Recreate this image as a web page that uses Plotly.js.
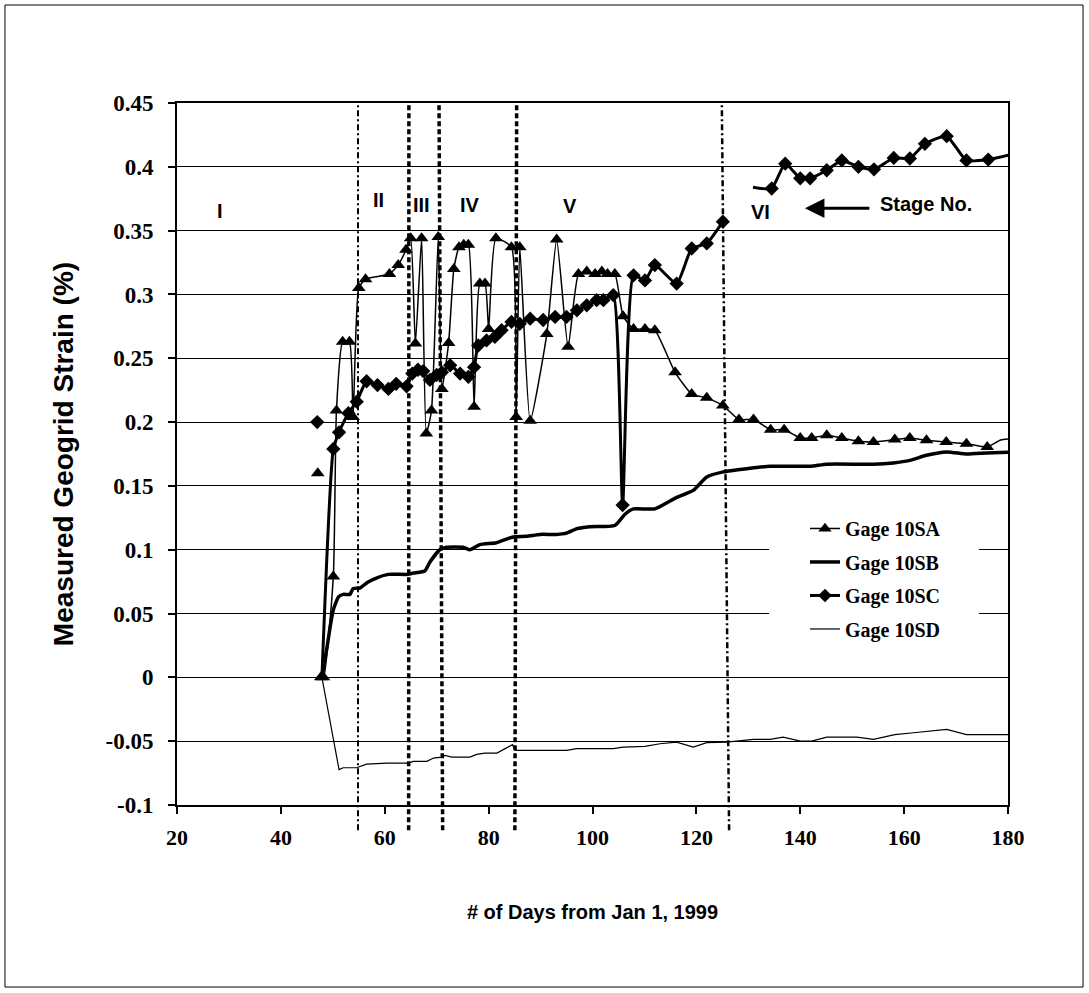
<!DOCTYPE html>
<html>
<head>
<meta charset="utf-8">
<script src="https://cdn.plot.ly/plotly-3.0.1.min.js"></script>
<style>
  html, body { margin: 0; padding: 0; background: #ffffff; }
  #chart { width: 1089px; height: 993px; }
</style>
</head>
<body>
<div id="chart"></div>
<script>
// ---------------- data ----------------
const saDays = [47.1, 47.5, 47.7, 48.2, 50.1, 50.7, 51.9, 53.2, 53.9, 55.0, 56.3, 60.9, 62.6, 64.1, 65.0, 65.9, 67.1, 68.0, 69.0, 70.3, 71.0, 72.3, 73.3, 74.3, 75.2, 76.1, 77.2, 78.3, 79.3, 80.0, 81.4, 84.4, 85.3, 86.0, 88.0, 91.2, 93.1, 95.3, 97.3, 98.9, 100.5, 101.8, 102.9, 104.3, 105.9, 107.9, 110.1, 112.0, 115.9, 119.1, 122.0, 125.1, 128.2, 131.0, 134.3, 136.9, 140.0, 142.2, 145.1, 148.0, 151.2, 154.1, 158.2, 161.1, 164.3, 168.1, 172.0, 176.0, 178.6, 181.0];
const saValues = [0.16, null, 0, 0, 0.079, 0.209, 0.263, 0.263, 0.204, 0.305, 0.312, 0.316, 0.323, 0.335, 0.344, 0.2615, 0.344, 0.191, 0.209, 0.345, 0.226, 0.262, 0.320, 0.337, 0.339, 0.339, 0.212, 0.3085, 0.3085, 0.273, 0.344, 0.337, 0.204, 0.337, 0.201, 0.269, 0.343, 0.259, 0.316, 0.318, 0.316, 0.318, 0.316, 0.316, 0.283, 0.273, 0.273, 0.272, 0.239, 0.222, 0.219, 0.213, 0.202, 0.202, 0.194, 0.194, 0.1876, 0.1876, 0.1897, 0.1876, 0.185, 0.1844, 0.1863, 0.1876, 0.1857, 0.1844, 0.1831, 0.1805, 0.186, 0.187];

const sbDays = [47.9, 48.9, 49.5, 50.1, 51.1, 52.0, 53.3, 53.9, 55.2, 56.8, 58.5, 60.7, 64.5, 65.5, 67.7, 68.7, 70.6, 71.9, 75.1, 76.4, 78.3, 81.5, 84.7, 87.3, 89.9, 93.1, 95.0, 97.0, 99.5, 104.3, 106.3, 107.9, 112.0, 116.2, 119.4, 122.0, 125.2, 129.7, 134.2, 141.9, 145.1, 154.1, 157.9, 161.1, 164.3, 168.2, 172.0, 175.9, 181.0];
const sbValues = [0, 0.024, 0.040, 0.053, 0.063, 0.065, 0.065, 0.0695, 0.070, 0.0747, 0.078, 0.0807, 0.0807, 0.0817, 0.0833, 0.0904, 0.100, 0.102, 0.102, 0.100, 0.104, 0.1055, 0.110, 0.1105, 0.112, 0.112, 0.113, 0.1165, 0.118, 0.119, 0.128, 0.132, 0.132, 0.141, 0.1465, 0.157, 0.161, 0.1635, 0.1654, 0.1654, 0.167, 0.167, 0.168, 0.170, 0.174, 0.1766, 0.175, 0.1758, 0.1766];

const scDays = [47.0, 47.5, 47.9, 50.1, 51.2, 53.0, 54.6, 56.5, 58.6, 60.7, 62.2, 64.2, 65.3, 66.4, 67.4, 68.7, 70.0, 71.0, 72.6, 74.5, 76.1, 77.2, 78.0, 79.6, 81.2, 82.5, 84.4, 86.0, 88.0, 90.5, 92.8, 95.0, 97.0, 98.9, 100.8, 102.1, 104.0, 105.8, 107.9, 110.1, 112.0, 116.2, 119.1, 122.0, 125.1, 128.0, 130.9, 134.5, 137.1, 140.0, 141.9, 145.1, 148.0, 151.2, 154.2, 158.0, 161.1, 164.0, 168.2, 172.0, 176.2, 181.0];
const scValues = [0.2, null, 0, 0.179, 0.192, 0.207, 0.216, 0.232, 0.229, 0.226, 0.230, 0.228, 0.238, 0.241, 0.240, 0.233, 0.237, 0.239, 0.2445, 0.238, 0.2355, 0.243, 0.260, 0.264, 0.2667, 0.272, 0.2785, 0.277, 0.281, 0.280, 0.2824, 0.2824, 0.2876, 0.2915, 0.2955, 0.2955, 0.2994, 0.135, 0.315, 0.311, 0.323, 0.3085, 0.336, 0.340, 0.357, null, 0.384, 0.383, 0.4025, 0.391, 0.391, 0.3973, 0.405, 0.400, 0.398, 0.407, 0.4065, 0.418, 0.424, 0.405, 0.4057, 0.410];

const sdDays = [47.9, 51.2, 52.0, 54.6, 56.5, 60.4, 64.5, 65.5, 68.1, 69.4, 71.0, 71.6, 72.9, 76.4, 77.7, 79.3, 81.6, 83.2, 84.6, 85.1, 95.0, 97.0, 104.0, 105.9, 110.1, 113.0, 116.2, 119.4, 122.0, 125.8, 131.0, 134.2, 136.7, 140.0, 142.2, 145.1, 150.9, 154.1, 158.2, 161.8, 165.0, 168.2, 172.0, 181.0];
const sdValues = [0, -0.0723, -0.0708, -0.0708, -0.068, -0.0672, -0.0672, -0.0658, -0.0658, -0.0632, -0.0625, -0.0611, -0.0625, -0.0625, -0.0603, -0.0593, -0.0593, -0.0559, -0.0527, -0.0572, -0.0572, -0.0559, -0.0559, -0.0546, -0.054, -0.052, -0.0507, -0.0546, -0.0512, -0.0507, -0.0486, -0.0486, -0.0468, -0.0499, -0.0499, -0.0468, -0.0468, -0.0486, -0.0449, -0.0434, -0.0421, -0.0408, -0.0449, -0.0449];

const seriesNames = ['Gage 10SA', 'Gage 10SB', 'Gage 10SC', 'Gage 10SD'];

const xTickVals = [20, 40, 60, 80, 100, 120, 140, 160, 180];
const xTickLabels = ['20', '40', '60', '80', '100', '120', '140', '160', '180'];
const yTickVals = [-0.1, -0.05, 0, 0.05, 0.1, 0.15, 0.2, 0.25, 0.3, 0.35, 0.4, 0.45];
const yTickLabels = ['-0.1', '-0.05', '0', '0.05', '0.1', '0.15', '0.2', '0.25', '0.3', '0.35', '0.4', '0.45'];

// stage boundaries (day at top of plot, day at bottom)
const stageTopDays = [54.85, 64.65, 70.45, 85.4, 124.9];
const stageBottomDays = [54.85, 64.6, 71.15, 85.05, 126.3];
const stageLabels = ['I', 'II', 'III', 'IV', 'V', 'VI'];
const stageLabelDays = [28.2, 58.8, 67.1, 76.4, 95.7, 132.4];
const stageLabelValues = [0.365, 0.374, 0.370, 0.370, 0.3695, 0.3644];

const xRange = [20, 180];
const yRange = [-0.1, 0.45];

// ---------------- traces ----------------
const serifBold = { family: 'Liberation Serif, Times New Roman, serif', weight: 'bold', color: '#000' };
const sansBold = { family: 'Liberation Sans, Arial, sans-serif', weight: 'bold', color: '#000' };

const traces = [
  {
    x: saDays, y: saValues, name: seriesNames[0], legendgroup: 'a',
    type: 'scatter', mode: 'lines+markers', connectgaps: false,
    line: { color: '#000', width: 1.5, shape: 'spline', smoothing: 0.5 },
    marker: { symbol: 'triangle-up', color: '#000', opacity: 1, line: { width: 0 },
              size: saDays.map(d => d > 177 ? 0 : 12) }
  },
  {
    x: sbDays, y: sbValues, name: seriesNames[1], legendgroup: 'b',
    type: 'scatter', mode: 'lines', connectgaps: false,
    line: { color: '#000', width: 3.5, shape: 'spline', smoothing: 0.5 }
  },
  {
    x: scDays, y: scValues, name: seriesNames[2], legendgroup: 'c',
    type: 'scatter', mode: 'lines+markers', connectgaps: false,
    line: { color: '#000', width: 3, shape: 'spline', smoothing: 0.5 },
    marker: { symbol: 'diamond', color: '#000', opacity: 1, line: { width: 0 },
              size: scDays.map(d => (d === 47.9 || d === 130.9 || d > 177) ? 0 : 11) }
  },
  {
    x: sdDays, y: sdValues, name: seriesNames[3], legendgroup: 'd',
    type: 'scatter', mode: 'lines', connectgaps: false,
    line: { color: '#000', width: 1.2 }
  }
];

// ---------------- shapes / annotations ----------------
const toPaperX = d => (d - xRange[0]) / (xRange[1] - xRange[0]);
const stageDash = ['6px,3px,2px,3px', '5px,3px', '5px,3px', '5px,3px', '6px,3px,2px,3px'];
const stageWidth = [2, 3.5, 3.5, 3.5, 2.5];

const shapes = stageTopDays.map((d, i) => ({
  type: 'line', xref: 'paper', yref: 'paper', layer: 'above',
  x0: toPaperX(stageBottomDays[i]), y0: -0.036,
  x1: toPaperX(d), y1: 1,
  line: { color: '#000', width: stageWidth[i], dash: stageDash[i] }
}));
// white legend area (hides grid lines behind the legend, as in the original)
shapes.push({
  type: 'rect', xref: 'paper', yref: 'paper', layer: 'above',
  x0: 0.7124, x1: 0.9651, y0: 0.2265, y1: 0.4188,
  line: { width: 0 }, fillcolor: '#fff'
});
// outer frame of the picture
shapes.push({
  type: 'rect', xref: 'paper', yref: 'paper', layer: 'above',
  x0: -0.2070, x1: 1.0903, y0: -0.2593, y1: 1.1396,
  line: { color: '#000', width: 1 }, fillcolor: 'rgba(0,0,0,0)'
});

const annotations = stageLabels.map((t, i) => ({
  x: stageLabelDays[i], y: stageLabelValues[i], xref: 'x', yref: 'y',
  text: t, showarrow: false, font: Object.assign({ size: 20 }, sansBold)
}));
annotations.push({
  x: 164.2, y: 0.3707, xref: 'x', yref: 'y', text: 'Stage No.',
  showarrow: false, font: Object.assign({ size: 20 }, sansBold)
});
annotations.push({
  x: 140.9, y: 0.3675, ax: 153.6, ay: 0.3675, xref: 'x', yref: 'y', axref: 'x', ayref: 'y',
  text: '', showarrow: true, arrowhead: 2, arrowsize: 1.3, arrowwidth: 3, arrowcolor: '#000'
});

const layout = {
  width: 1089, height: 993,
  margin: { l: 177, r: 81, t: 103, b: 188, pad: 0 },
  paper_bgcolor: '#fff', plot_bgcolor: '#fff',
  showlegend: true,
  legend: {
    x: 0.7557, y: 0.4217, xanchor: 'left', yanchor: 'top',
    bgcolor: '#fff', borderwidth: 0, traceorder: 'grouped', tracegroupgap: 4.5,
    font: Object.assign({ size: 20 }, serifBold)
  },
  xaxis: {
    range: xRange, tickvals: xTickVals, ticktext: xTickLabels,
    showline: true, linecolor: '#000', linewidth: 2, mirror: true,
    ticks: 'outside', ticklen: 7, tickwidth: 2, tickcolor: '#000',
    showgrid: false, zeroline: false, ticklabelstandoff: 5,
    tickfont: Object.assign({ size: 22 }, serifBold),
    title: { text: '# of Days from Jan 1, 1999', font: Object.assign({ size: 20 }, sansBold), standoff: 56 }
  },
  yaxis: {
    range: yRange, tickvals: yTickVals, ticktext: yTickLabels,
    showline: true, linecolor: '#000', linewidth: 2, mirror: true,
    ticks: 'outside', ticklen: 7, tickwidth: 2, tickcolor: '#000',
    showgrid: true, gridcolor: '#000', gridwidth: 1, zeroline: false, ticklabelstandoff: 10,
    tickfont: Object.assign({ size: 23 }, serifBold),
    title: { text: 'Measured Geogrid Strain (%)', font: Object.assign({ size: 28 }, sansBold), standoff: 24 }
  },
  shapes: shapes,
  annotations: annotations
};

Plotly.newPlot('chart', traces, layout, { staticPlot: true, displayModeBar: false });
</script>
</body>
</html>
